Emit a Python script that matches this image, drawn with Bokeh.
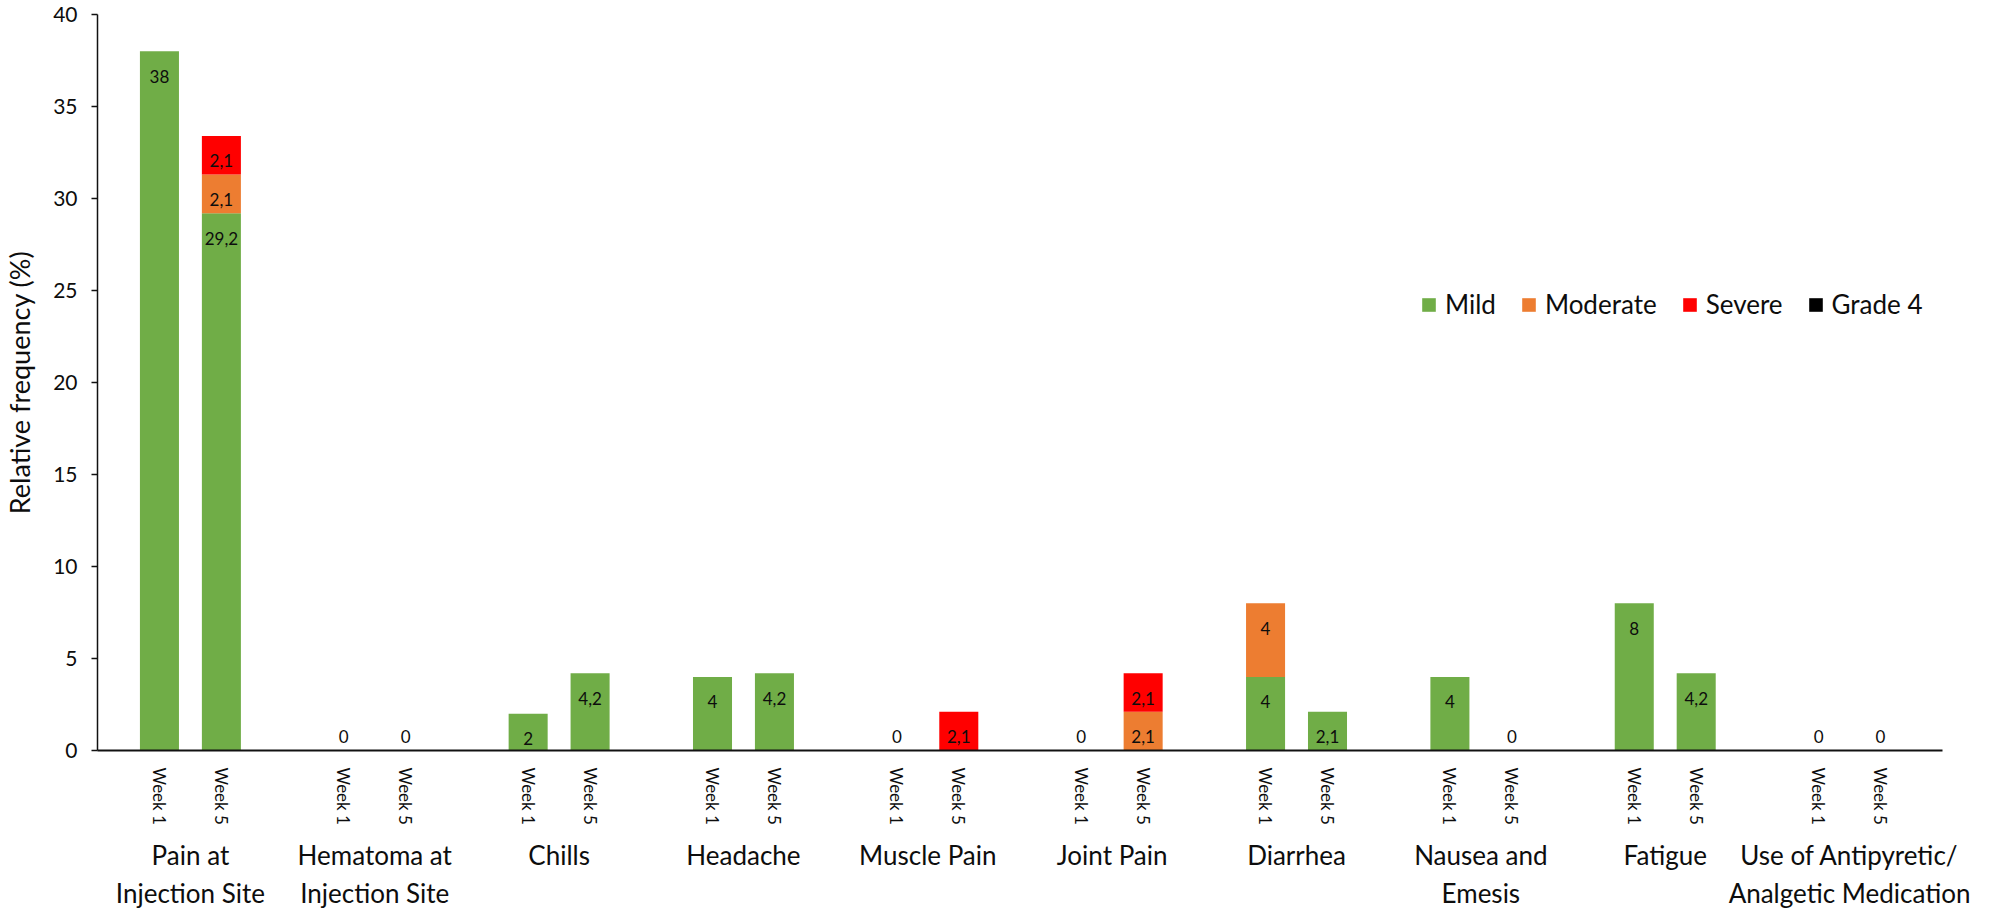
from bokeh.plotting import figure
from bokeh.models import ColumnDataSource, FactorRange, FixedTicker
from bokeh.core.properties import value
from bokeh.embed import file_html
from bokeh.resources import INLINE

groups = ["Pain at\nInjection Site", "Hematoma at\nInjection Site", "Chills", "Headache",
          "Muscle Pain", "Joint Pain", "Diarrhea", "Nausea and\nEmesis", "Fatigue",
          "Use of Antipyretic/\nAnalgetic Medication"]
weeks = ["Week 1", "Week 5"]
series = ["Mild", "Moderate", "Severe", "Grade 4"]
colors = ["#70AD47", "#ED7D31", "#FF0000", "#000000"]

mild_w1 = [38, 0, 2, 4, 0, 0, 4, 4, 8, 0]
mild_w5 = [29.2, 0, 4.2, 4.2, 0, 0, 2.1, 0, 4.2, 0]
moderate_w1 = [0, 0, 0, 0, 0, 0, 4, 0, 0, 0]
moderate_w5 = [2.1, 0, 0, 0, 0, 2.1, 0, 0, 0, 0]
severe_w1 = [0, 0, 0, 0, 0, 0, 0, 0, 0, 0]
severe_w5 = [2.1, 0, 0, 0, 2.1, 2.1, 0, 0, 0, 0]
grade4_w1 = [0, 0, 0, 0, 0, 0, 0, 0, 0, 0]
grade4_w5 = [0, 0, 0, 0, 0, 0, 0, 0, 0, 0]

FONT = "Lato"
TXT = "#0d0d0d"

x = []
mild, moderate, severe, grade4 = [], [], [], []
for i, g in enumerate(groups):
    x += [(g, weeks[0]), (g, weeks[1])]
    mild += [mild_w1[i], mild_w5[i]]
    moderate += [moderate_w1[i], moderate_w5[i]]
    severe += [severe_w1[i], severe_w5[i]]
    grade4 += [grade4_w1[i], grade4_w5[i]]

src = ColumnDataSource(dict(x=x, Mild=mild, Moderate=moderate, Severe=severe, **{"Grade 4": grade4}))

# labels
lx, ly, lt = [], [], []
zx, zy, zt = [], [], []
cols = [mild, moderate, severe, grade4]
for j, xx in enumerate(x):
    cum = 0.0
    total = sum(c[j] for c in cols)
    if total == 0:
        zx.append(xx); zy.append(0); zt.append("0")
        continue
    for c in cols:
        v = c[j]
        if v > 0:
            cum += v
            lx.append(xx); ly.append(cum); lt.append(("%g" % v).replace(".", ","))

p = figure(x_range=FactorRange(*x, group_padding=0.976, factor_padding=0.0,
                               range_padding=0.5, range_padding_units="absolute"),
           y_range=(0, 40), frame_width=1845, frame_height=736,
           output_backend="svg", toolbar_location=None,
           min_border_left=92, min_border_top=14, min_border_right=53, min_border_bottom=140)

p.vbar_stack(series, x="x", width=0.63, fill_color=colors, line_color=None,
             source=src, legend_label=series)

p.text(x=lx, y=ly, text=lt, text_align="center", text_baseline="middle", y_offset=25,
       text_font=value(FONT), text_font_size="17px", text_color=TXT)
p.text(x=zx, y=zy, text=zt, text_align="center", text_baseline="middle", y_offset=-14,
       text_font=value(FONT), text_font_size="17px", text_color=TXT)

p.outline_line_color = None
p.xgrid.grid_line_color = None
p.ygrid.grid_line_color = None

# y axis
p.yaxis.ticker = FixedTicker(ticks=[0, 5, 10, 15, 20, 25, 30, 35, 40])
p.yaxis.axis_label = "Relative frequency (%)"
p.yaxis.axis_label_text_font = FONT
p.yaxis.axis_label_text_font_size = "27px"
p.yaxis.axis_label_text_font_style = "normal"
p.yaxis.axis_label_text_color = TXT
p.yaxis.axis_label_standoff = 14
p.yaxis.major_label_text_font = FONT
p.yaxis.major_label_text_font_size = "21px"
p.yaxis.major_label_text_color = TXT
p.yaxis.major_label_standoff = 14
p.yaxis.major_tick_out = 6
p.yaxis.major_tick_in = 0
p.yaxis.minor_tick_line_color = None
p.yaxis.axis_line_color = "#111111"
p.yaxis.axis_line_width = 1.5
p.yaxis.major_tick_line_width = 1.5
p.yaxis.major_tick_line_color = "#111111"

# x axis
p.xaxis.axis_line_color = "#111111"
p.xaxis.axis_line_width = 2
p.xaxis.major_tick_line_color = None
p.xaxis.major_label_orientation = "vertical"
p.xaxis.major_label_text_font = FONT
p.xaxis.major_label_text_font_size = "17px"
p.xaxis.major_label_text_color = TXT
p.xaxis.major_label_standoff = 11
p.xaxis.group_label_orientation = "horizontal"
p.xaxis.group_text_font = FONT
p.xaxis.group_text_font_size = "26px"
p.xaxis.group_text_color = TXT
p.xaxis.group_text_font_style = "normal"
p.xaxis.separator_line_alpha = 0

# legend
p.legend.orientation = "horizontal"
p.legend.location = (1323, 430)
p.legend.border_line_color = None
p.legend.background_fill_alpha = 0
p.legend.padding = 0
p.legend.margin = 0
p.legend.spacing = 24
p.legend.label_standoff = 8
p.legend.glyph_width = 17
p.legend.glyph_height = 17
p.legend.label_text_font = FONT
p.legend.label_text_font_size = "26px"
p.legend.label_text_color = TXT

open("out.html", "w").write(file_html(p, INLINE))
